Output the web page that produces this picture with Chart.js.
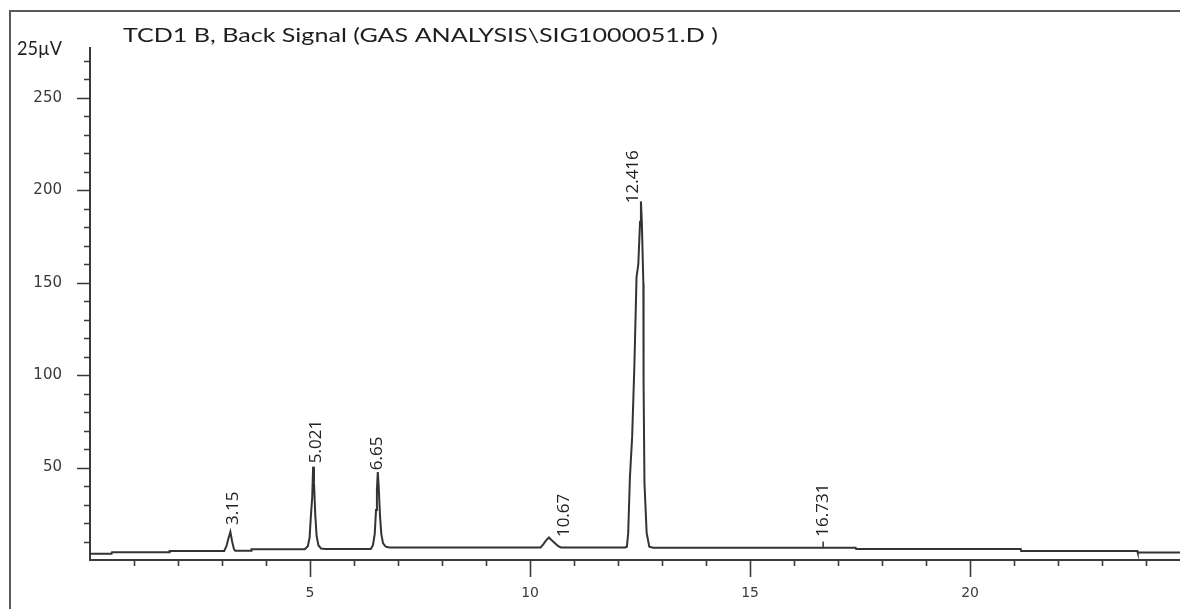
<!DOCTYPE html>
<html>
<head>
<meta charset="utf-8">
<script src="https://cdn.jsdelivr.net/npm/chart.js@4.4.0/dist/chart.umd.min.js"></script>
<style>
html,body{margin:0;padding:0;background:#fff;}
#wrap{position:relative;width:1180px;height:609px;}
</style>
</head>
<body>
<div id="wrap"><canvas id="c" width="1180" height="609"></canvas></div>
<script>
// ---- data ----
const titleText = "TCD1 B, Back Signal (GAS ANALYSIS\\SIG1000051.D )";
const unitText = "25\u00B5V";

// retention time (min)
const times = [0.00,0.49,0.50,1.80,1.81,3.05,3.10,3.15,3.19,3.23,3.27,3.30,3.66,3.67,
  4.88,4.95,4.99,5.02,5.05,5.07,5.09,5.12,5.15,5.19,5.25,5.35,
  6.38,6.43,6.47,6.50,6.52,6.54,6.56,6.59,6.62,6.66,6.72,6.80,
  10.24,10.30,10.36,10.43,10.50,10.58,10.64,10.70,
  12.16,12.20,12.23,12.27,12.32,12.37,12.42,12.46,12.50,12.52,12.54,12.575,12.58,12.60,12.65,12.71,12.80,
  17.40,17.41,21.15,21.16,23.80,23.81,24.80];
// detector signal (25 uV units)
const signal = [3.4,3.4,4.2,4.2,4.9,4.9,7.5,12,15.2,10,6,5.0,5.0,5.8,
  5.8,7.5,12,24,34,50.5,42,24,13,8,6.2,6.0,
  6.0,8,14,27,38,47.6,40,24,14,9,7.2,6.8,
  6.8,8.5,10.5,12.2,10.5,8.8,7.5,6.8,
  6.8,7.2,14.4,45,66.6,104.5,153,160,183,194,183,149.6,95.7,41.6,14.6,7.2,6.6,
  6.6,5.9,5.9,4.9,4.9,4.0,4.0];

// peak retention-time labels
const peakLabels = ["3.15","5.021","6.65","10.67","12.416","16.731"];
const peakLabelTimes = [3.25,5.14,6.52,10.77,12.34,16.66];
const peakLabelBase = [18.9,52.4,48.6,12.4,193,12.6];
// baseline marker tick (16.731)
const markerTimes = [16.66];
const markerFrom = [6.3];
const markerTo = [10.0];

// axis ticks
const xMajor = [5,10,15,20];
const xMinor = [1,2,3,4,6,7,8,9,11,12,13,14,16,17,18,19,21,22,23,24];
const yMajor = [50,100,150,200,250];
const yMinor = [10,20,30,40,60,70,80,90,110,120,130,140,160,170,180,190,210,220,230,240,260,270];
const xMax = 24.77;
const yMax = 277;

const points = times.map((t,i)=>({x:t,y:signal[i]}));

const axisColor = '#3a3a3a';

const decor = {
  id:'decor',
  beforeDraw(chart){
    const ctx = chart.ctx;
    ctx.save();
    ctx.fillStyle='#fff';
    ctx.fillRect(0,0,chart.width,chart.height);
    ctx.restore();
  },
  afterDraw(chart){
    const ctx = chart.ctx;
    const xs = chart.scales.x, ys = chart.scales.y;
    const ca = chart.chartArea;
    ctx.save();
    // outer frame
    ctx.strokeStyle='#5a5a5a';
    ctx.lineWidth=2;
    ctx.beginPath();
    ctx.moveTo(10,609); ctx.lineTo(10,11); ctx.lineTo(1180,11);
    ctx.stroke();
    // tick marks
    ctx.strokeStyle=axisColor;
    ctx.lineWidth=1.6;
    ctx.beginPath();
    yMajor.forEach(v=>{const p=Math.round(ys.getPixelForValue(v))+0.5; ctx.moveTo(ca.left-13,p); ctx.lineTo(ca.left,p);});
    yMinor.forEach(v=>{const p=Math.round(ys.getPixelForValue(v))+0.5; ctx.moveTo(ca.left-6,p); ctx.lineTo(ca.left,p);});
    xMajor.forEach(v=>{const p=Math.round(xs.getPixelForValue(v))+0.5; ctx.moveTo(p,ca.bottom); ctx.lineTo(p,ca.bottom+17);});
    xMinor.forEach(v=>{const p=Math.round(xs.getPixelForValue(v))+0.5; ctx.moveTo(p,ca.bottom); ctx.lineTo(p,ca.bottom+6);});
    ctx.stroke();
    // marker ticks
    ctx.strokeStyle='#333';
    ctx.lineWidth=1.5;
    ctx.beginPath();
    markerTimes.forEach((t,i)=>{const p=xs.getPixelForValue(t); ctx.moveTo(p,ys.getPixelForValue(markerFrom[i])); ctx.lineTo(p,ys.getPixelForValue(markerTo[i]));});
    ctx.stroke();
    // peak labels
    ctx.fillStyle='#222';
    ctx.font='17px "Open Sans"';
    ctx.textAlign='left';
    ctx.textBaseline='middle';
    peakLabels.forEach((s,i)=>{
      const px = xs.getPixelForValue(peakLabelTimes[i]);
      const py = ys.getPixelForValue(peakLabelBase[i]);
      ctx.save();
      ctx.translate(px,py);
      ctx.rotate(-Math.PI/2);
      ctx.fillText(s,0,0);
      ctx.restore();
    });
    // title
    ctx.fillStyle='#1e1e1e';
    ctx.textBaseline='alphabetic';
    ctx.textAlign='left';
    ctx.font='19px Lato';
    const w=ctx.measureText(titleText).width;
    ctx.save();
    ctx.translate(123,42);
    ctx.scale(595/w,1);
    ctx.fillText(titleText,0,0);
    ctx.restore();
    // unit
    ctx.font='19px Lato';
    const uw=ctx.measureText(unitText).width;
    ctx.save();
    ctx.translate(17,55);
    ctx.scale(45/uw,1);
    ctx.fillText(unitText,0,0);
    ctx.restore();
    ctx.restore();
  }
};

new Chart(document.getElementById('c'),{
  type:'line',
  data:{datasets:[{data:points,borderColor:'#333',borderWidth:2,pointRadius:0,tension:0,fill:false}]},
  options:{
    responsive:false,
    animation:false,
    events:[],
    layout:{padding:{left:0,right:0,top:48,bottom:0}},
    plugins:{legend:{display:false},tooltip:{enabled:false},title:{display:false}},
    scales:{
      x:{type:'linear',min:0,max:xMax,
        afterFit(s){s.height=49;},
        afterBuildTicks(s){s.ticks=xMajor.map(v=>({value:v}));},
        grid:{display:true,drawOnChartArea:false,drawTicks:false},
        border:{display:true,color:axisColor,width:2},
        ticks:{padding:25,autoSkip:false,maxRotation:0,color:'#3a3a3a',font:{family:'DejaVu Sans',size:14},callback:v=>String(v)}
      },
      y:{type:'linear',min:0,max:yMax,
        afterFit(s){s.width=90;},
        afterBuildTicks(s){s.ticks=yMajor.map(v=>({value:v}));},
        grid:{display:true,drawOnChartArea:false,drawTicks:false},
        border:{display:true,color:axisColor,width:2},
        ticks:{padding:28,color:'#3a3a3a',font:{family:'DejaVu Sans',size:15},callback:v=>String(v)}
      }
    }
  },
  plugins:[decor]
});
</script>
</body>
</html>
